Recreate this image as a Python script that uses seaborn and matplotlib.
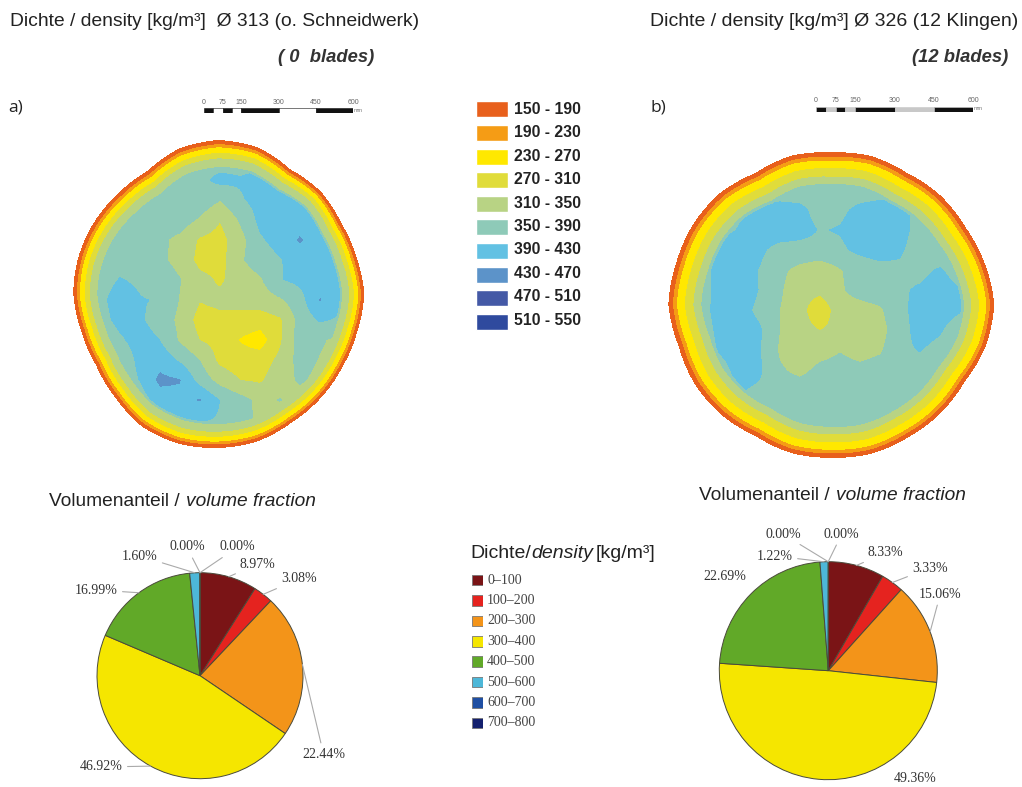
import numpy as np
import matplotlib
matplotlib.use("Agg")
import matplotlib.pyplot as plt
from matplotlib.colors import BoundaryNorm, ListedColormap
import seaborn as sns

W, H = 1022, 787

# density classes of the two section maps
map_levels = [150, 190, 230, 270, 310, 350, 390, 430, 470, 510, 550]
map_colors = ["#e8601c", "#f59c15", "#ffe800", "#e0dc3a", "#b8d384",
              "#8ecab8", "#62c1e3", "#5c93c9", "#4459a6", "#2f4a9e"]
map_labels = ["150 - 190", "190 - 230", "230 - 270", "270 - 310", "310 - 350",
              "350 - 390", "390 - 430", "430 - 470", "470 - 510", "510 - 550"]

outline_angles = np.arange(0, 360, 15)
ring_angles = np.arange(0, 360, 45)
ring_density = [150, 190, 230, 270, 310, 350, 600]

# section a) density, nodes every 20 px
a_grid_x = np.arange(80, 361, 20)
a_grid_y = np.arange(160, 441, 20)
a_density = [
    [370, 370, 370, 370, 370, 370, 370, 370, 370, 370, 370, 370, 370, 370, 370],
    [370, 370, 370, 370, 370, 370, 380, 402, 395, 405, 380, 370, 370, 370, 370],
    [370, 370, 370, 370, 370, 370, 375, 352, 385, 405, 410, 395, 370, 370, 370],
    [370, 370, 370, 370, 370, 370, 345, 312, 355, 400, 410, 410, 388, 365, 365],
    [360, 360, 370, 370, 358, 340, 305, 295, 335, 385, 405, 435, 400, 372, 365],
    [360, 370, 380, 372, 358, 338, 298, 295, 345, 370, 388, 405, 410, 390, 350],
    [360, 378, 392, 385, 372, 352, 322, 305, 328, 345, 388, 400, 410, 395, 345],
    [360, 382, 405, 392, 388, 348, 312, 320, 325, 330, 345, 375, 433, 398, 345],
    [360, 378, 400, 395, 375, 340, 295, 300, 295, 290, 305, 365, 395, 385, 340],
    [350, 365, 385, 405, 390, 345, 310, 295, 268, 250, 305, 370, 355, 340, 340],
    [340, 350, 365, 400, 415, 385, 350, 300, 288, 290, 320, 365, 348, 335, 340],
    [340, 350, 365, 392, 440, 432, 375, 335, 310, 305, 335, 355, 340, 340, 340],
    [350, 350, 360, 370, 410, 420, 433, 390, 365, 340, 352, 335, 330, 335, 340],
    [350, 350, 355, 365, 370, 392, 395, 385, 360, 345, 330, 330, 330, 335, 340],
    [350, 350, 350, 350, 350, 350, 350, 350, 350, 350, 350, 350, 350, 350, 350],
]
a_radius = [146, 143, 142, 145, 144, 152, 154, 150.7, 142, 142, 143.5, 144.7,
            145, 142, 141.5, 146, 153, 155, 154, 152.5, 148, 146, 144, 144]
a_ring_width = [22, 21, 27, 26, 24, 24, 24, 22]
a_ring_share = [0, 0.15, 0.27, 0.47, 0.68, 1, 1.6]

# section b)
b_grid_x = np.arange(680, 981, 20)
b_grid_y = np.arange(170, 451, 20)
b_density = [
    [370, 370, 370, 370, 370, 370, 370, 370, 370, 370, 370, 370, 370, 370, 370, 370],
    [370, 370, 370, 370, 370, 370, 370, 370, 370, 370, 370, 370, 370, 370, 370, 370],
    [370, 370, 370, 385, 400, 405, 400, 375, 382, 400, 410, 405, 375, 365, 365, 365],
    [370, 370, 380, 393, 410, 415, 405, 388, 393, 410, 415, 405, 375, 365, 365, 365],
    [370, 370, 395, 415, 398, 375, 375, 378, 383, 400, 410, 395, 372, 360, 360, 360],
    [370, 372, 405, 410, 388, 358, 340, 325, 348, 365, 375, 383, 380, 395, 370, 360],
    [370, 370, 405, 415, 388, 355, 325, 322, 345, 365, 372, 385, 395, 410, 392, 360],
    [370, 375, 405, 405, 380, 350, 325, 280, 335, 335, 345, 380, 405, 410, 395, 360],
    [370, 370, 400, 410, 395, 350, 325, 310, 322, 325, 335, 375, 405, 395, 365, 360],
    [365, 365, 395, 410, 392, 345, 325, 335, 348, 335, 345, 382, 392, 378, 365, 360],
    [360, 360, 375, 405, 395, 355, 340, 360, 365, 360, 368, 370, 375, 368, 360, 360],
    [365, 365, 365, 392, 385, 368, 370, 370, 370, 370, 370, 370, 370, 370, 365, 360],
    [370, 370, 370, 370, 370, 370, 370, 370, 370, 370, 370, 370, 370, 370, 370, 370],
    [370, 370, 370, 370, 370, 370, 370, 370, 370, 370, 370, 370, 370, 370, 370, 370],
    [370, 370, 370, 370, 370, 370, 370, 370, 370, 370, 370, 370, 370, 370, 370, 370],
]
b_radius = [163, 159, 155, 154.5, 152, 154, 152.3, 154.3, 152, 157.7, 160, 160.7,
            163, 158.3, 158, 155.7, 151.7, 153.7, 153, 154.3, 153.3, 154, 154, 160]
b_ring_width = [30, 32, 32, 32, 33, 32, 31, 30]
b_ring_share = [0, 0.14, 0.26, 0.5, 0.76, 1, 1.6]

# volume fractions
pie_labels = ["0–100", "100–200", "200–300", "300–400",
              "400–500", "500–600", "600–700", "700–800"]
pie_colors = ["#7a1416", "#e5231f", "#f39419", "#f5e600",
              "#61a928", "#4db7d8", "#1f4fa3", "#14206e"]
a_fractions = [8.97, 3.08, 22.44, 46.92, 16.99, 1.60, 0.00, 0.00]
b_fractions = [8.33, 3.33, 15.06, 49.36, 22.69, 1.22, 0.00, 0.00]

scale_ticks = [0, 37.5, 75, 112.5, 150, 300, 450, 600]
scale_labels = [0, 75, 150, 300, 450, 600]

sns.set_theme(style="white")
plt.rcParams["font.family"] = ["Liberation Sans", "DejaVu Sans"]

fig = plt.figure(figsize=(W / 100, H / 100), dpi=100)


def px_axes(x0, y0, x1, y1):
    ax = fig.add_axes([x0 / W, 1 - y1 / H, (x1 - x0) / W, (y1 - y0) / H])
    ax.set_axis_off()
    return ax


def put_text(x, y, s, **kw):
    kw.setdefault("va", "center")
    kw.setdefault("color", "#222222")
    fig.text(x / W, 1 - y / H, s, **kw)


def resample(grid, grid_x, grid_y, px, py):
    grid = np.asarray(grid, dtype=float)
    rows = np.array([np.interp(px, grid_x, row) for row in grid])
    return np.array([np.interp(py, grid_y, rows[:, i]) for i in range(len(px))]).T


def draw_map(box, centre, grid, grid_x, grid_y, radius, ring_width, ring_share):
    x0, y0, x1, y1 = box
    px = np.arange(x0, x1) + 0.5
    py = np.arange(y0, y1) + 0.5
    field = resample(grid, grid_x, grid_y, px, py)
    xx, yy = np.meshgrid(px, py)
    dx, dy = xx - centre[0], centre[1] - yy
    angle = np.degrees(np.arctan2(dy, dx)) % 360
    depth = np.interp(angle, outline_angles, radius, period=360) - np.hypot(dx, dy)
    width = np.interp(angle, ring_angles, ring_width, period=360)
    field = np.minimum(field, np.interp(depth / width, ring_share, ring_density))
    field[depth < 0] = np.nan
    ax = px_axes(x0, y0, x1, y1)
    sns.heatmap(field, ax=ax, cmap=ListedColormap(sns.color_palette(map_colors)),
                norm=BoundaryNorm(map_levels, len(map_colors)), cbar=False,
                xticklabels=False, yticklabels=False)
    ax.set_axis_off()


def draw_scale(box, light, edge):
    ax = px_axes(box[0], box[1], box[2], box[3])
    ax.set_xlim(0, 600)
    ax.set_ylim(0, 1)
    for i in range(len(scale_ticks) - 1):
        ax.barh(0.5, scale_ticks[i + 1] - scale_ticks[i], left=scale_ticks[i], height=1,
                color="#111111" if i % 2 == 0 else light, edgecolor=edge, linewidth=0.4)
    step = (box[2] - box[0]) / 600
    for v in scale_labels:
        put_text(box[0] + v * step, box[1] - 6, str(v), fontsize=5, ha="center", color="#666666")
    put_text(box[2] + 1, box[1] + 2, "mm", fontsize=4, color="#777777")


def draw_pie(cx, cy, r, fractions, label_pos):
    ax = px_axes(cx - r, cy - r, cx + r, cy + r)
    ax.pie(fractions, colors=pie_colors, startangle=90, counterclock=False, radius=1,
           wedgeprops={"edgecolor": "#4a4a3a", "linewidth": 0.7})
    ax.set_xlim(-1, 1)
    ax.set_ylim(-1, 1)
    done = 0
    for value, (lx, ly, leader) in zip(fractions, label_pos):
        mid = np.radians(90 - 3.6 * (done + value / 2))
        done += value
        props = {"arrowstyle": "-", "color": "#aaaaaa", "lw": 0.8, "shrinkA": 1, "shrinkB": 0}
        ax.annotate(f"{value:.2f}%", xy=(np.cos(mid), np.sin(mid)),
                    xytext=(lx, H - ly), textcoords="figure pixels",
                    ha="left", va="center", fontsize=10, color="#333333",
                    family="Liberation Serif", annotation_clip=False,
                    arrowprops=props if leader else None)


# headings
put_text(10, 21, "Dichte / density [kg/m³]  Ø 313 (o. Schneidwerk)", fontsize=13.9)
put_text(650, 21, "Dichte / density [kg/m³] Ø 326 (12 Klingen)", fontsize=14)
put_text(278, 57, "( 0  blades)", fontsize=13.2, style="italic", fontweight="bold", color="#333333")
put_text(912, 57, "(12 blades)", fontsize=13.2, style="italic", fontweight="bold", color="#333333")
put_text(8, 108, "a)", fontsize=12.5, family="Open Sans")
put_text(650, 108, "b)", fontsize=12.5, family="Open Sans")

draw_scale((204, 108, 353, 113), "white", "#111111")
draw_scale((816, 107, 973, 112), "#c8c8c8", "#c8c8c8")

draw_map((60, 130, 380, 460), (218.3, 294), a_density, a_grid_x, a_grid_y,
         a_radius, a_ring_width, a_ring_share)
draw_map((655, 140, 1007, 470), (831.3, 304.7), b_density, b_grid_x, b_grid_y,
         b_radius, b_ring_width, b_ring_share)

# legend of the maps
legend_ax = px_axes(476, 100, 508, 336)
legend_ax.set_xlim(0, 1)
legend_ax.set_ylim(len(map_labels), 0)
legend_ax.barh(np.arange(len(map_labels)) + 0.4, 1, height=0.68, color=map_colors)
for i, label in enumerate(map_labels):
    put_text(514, 109.5 + i * 23.4, label, fontsize=11.3, fontweight="bold")

# volume fraction titles
for x, y in [(49, 502), (699, 496)]:
    put_text(x, y, "Volumenanteil / ", fontsize=13.8)
    put_text(x + 137, y, "volume fraction", fontsize=13.8, style="italic")

a_label_pos = [(240, 564, True), (281, 579, True), (302, 754, True), (80, 767, True),
               (75, 590, True), (122, 556, True), (169, 547, True), (220, 547, True)]
b_label_pos = [(868, 553, True), (912, 568, True), (919, 594, True), (894, 778, False),
               (703, 577, False), (757, 556, True), (765, 534, True), (824, 534, True)]
draw_pie(200, 675.7, 103, a_fractions, a_label_pos)
draw_pie(828.3, 670.7, 109, b_fractions, b_label_pos)

# legend of the pies
put_text(470, 553, "Dichte/", fontsize=14)
put_text(531, 553, "density", fontsize=14, style="italic")
put_text(596, 553, "[kg/m³]", fontsize=14)
pie_legend = px_axes(472, 570, 483, 733)
pie_legend.set_xlim(0, 1)
pie_legend.set_ylim(len(pie_labels), 0)
pie_legend.barh(np.arange(len(pie_labels)) + 0.5, 1, height=0.52, color=pie_colors,
                edgecolor="#777777", linewidth=0.6)
for i, label in enumerate(pie_labels):
    put_text(487, 580 + i * 20.4, label, fontsize=10, family="Liberation Serif", color="#444444")

fig.savefig("out.png", dpi=100)
